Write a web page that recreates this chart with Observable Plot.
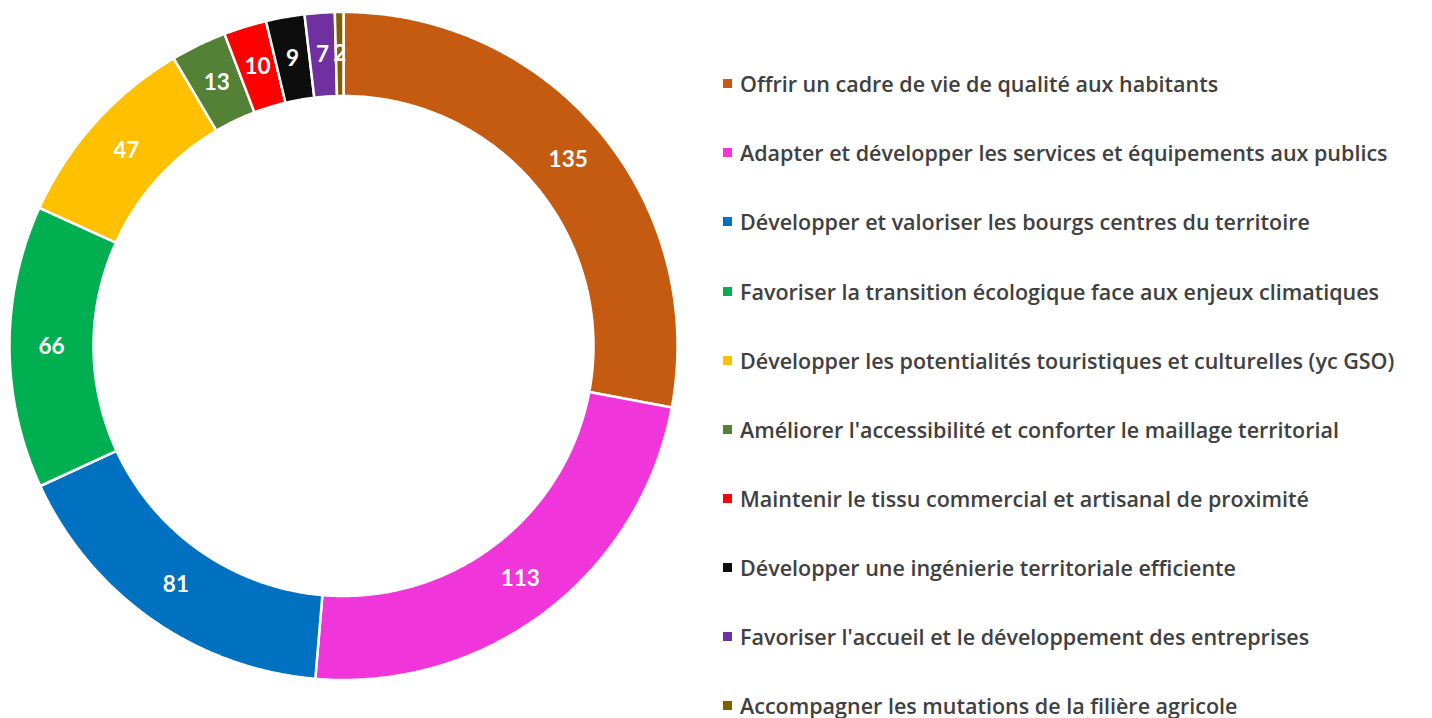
<!DOCTYPE html>
<html>
<head>
<meta charset="utf-8">
<script src="https://cdn.jsdelivr.net/npm/d3@7"></script>
<script src="https://cdn.jsdelivr.net/npm/@observablehq/plot@0.6"></script>
<style>
  html, body { margin: 0; padding: 0; background: #fff; width: 1432px; height: 718px; overflow: hidden; }
  #wrap { position: relative; width: 1432px; height: 718px; }
  #chart { position: absolute; left: 0; top: 0; }
  #legend { position: absolute; left: 723px; top: 0; font-family: "Open Sans", sans-serif; font-weight: 600; font-size: 21.5px; color: #404040; }
  .row { position: absolute; left: 0; white-space: nowrap; display: flex; align-items: center; height: 30px; }
  .sw { width: 9px; height: 9px; margin-right: 8px; flex: none; }
</style>
</head>
<body>
<div id="wrap">
  <div id="chart"></div>
  <div id="legend"></div>
</div>
<script>
const categories = [
  "Offrir un cadre de vie de qualité aux habitants",
  "Adapter et développer les services et équipements aux publics",
  "Développer et valoriser les bourgs centres du territoire",
  "Favoriser la transition écologique face aux enjeux climatiques",
  "Développer les potentialités touristiques et culturelles (yc GSO)",
  "Améliorer l'accessibilité et conforter le maillage territorial",
  "Maintenir le tissu commercial et artisanal de proximité",
  "Développer une ingénierie territoriale efficiente",
  "Favoriser l'accueil et le développement des entreprises",
  "Accompagner les mutations de la filière agricole"
];
const values = [135, 113, 81, 66, 47, 13, 10, 9, 7, 2];
const colors = ["#C55A11", "#F035DA", "#0070C0", "#00B050", "#FFC000", "#538135", "#FF0000", "#0D0D0D", "#7030A0", "#7F6000"];

const data = categories.map((name, i) => ({name, value: values[i]}));
const R_OUT = 334, R_IN = 250, R_LBL = 292;
const arcs = d3.pie().sort(null).value(d => d.value)(data);

const pts = [];
arcs.forEach(a => {
  const n = Math.max(4, Math.ceil((a.endAngle - a.startAngle) * 120));
  const ring = [];
  for (let k = 0; k <= n; k++) {
    const t = a.startAngle + (a.endAngle - a.startAngle) * k / n;
    ring.push({x: R_OUT * Math.sin(t), y: R_OUT * Math.cos(t)});
  }
  for (let k = n; k >= 0; k--) {
    const t = a.startAngle + (a.endAngle - a.startAngle) * k / n;
    ring.push({x: R_IN * Math.sin(t), y: R_IN * Math.cos(t)});
  }
  ring.push(ring[0]);
  ring.forEach(p => pts.push({...p, name: a.data.name}));
});
const labels = arcs.map(a => {
  const m = (a.startAngle + a.endAngle) / 2;
  return {x: R_LBL * Math.sin(m), y: R_LBL * Math.cos(m), v: String(a.data.value)};
});

const cx = 343, cy = 345.5;
const chart = Plot.plot({
  width: 700, height: 718,
  margin: 0,
  x: {domain: [-R_OUT, R_OUT], range: [cx - R_OUT, cx + R_OUT], axis: null},
  y: {domain: [-R_OUT, R_OUT], range: [cy + R_OUT, cy - R_OUT], axis: null},
  color: {domain: categories, range: colors},
  marks: [
    Plot.line(pts, {x: "x", y: "y", z: "name", fill: "name", stroke: "white", strokeWidth: 2.5, curve: "linear"}),
    Plot.text(labels, {x: "x", y: "y", text: "v", fill: "white", fontSize: 22.5, fontWeight: "bold", fontFamily: "Lato, sans-serif"})
  ]
});
document.getElementById("chart").appendChild(chart);

const legend = document.getElementById("legend");
const rowY = [83, 152.5, 221.5, 291, 360, 429, 498, 567, 636, 705];
categories.forEach((c, i) => {
  const row = document.createElement("div");
  row.className = "row";
  row.style.top = (rowY[i] - 15) + "px";
  const sw = document.createElement("span");
  sw.className = "sw";
  sw.style.background = colors[i];
  const tx = document.createElement("span");
  tx.textContent = c;
  row.appendChild(sw); row.appendChild(tx);
  legend.appendChild(row);
});
</script>
</body>
</html>
